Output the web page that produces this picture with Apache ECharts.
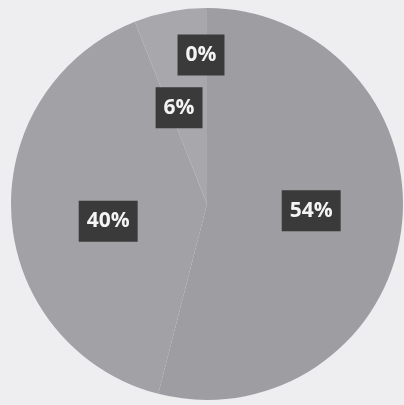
<!DOCTYPE html>
<html>
<head>
<meta charset="utf-8">
<script src="https://cdn.jsdelivr.net/npm/echarts@6/dist/echarts.min.js"></script>
<style>
html,body{margin:0;padding:0;background:#eeeef0;}
#c{width:404px;height:405px;}
</style>
</head>
<body>
<div id="c"></div>
<script>
const categories = ['A', 'B', 'C', 'D'];
const values = [54, 40, 6, 0];

const sliceColors = ['#9d9da2', '#a1a1a6', '#a8a8ac', '#c4c4c7'];
const labelOffsets = [[4, -6], [2, 11], [-9, 3], [-6, -48]];

const chart = echarts.init(document.getElementById('c'), null, {renderer: 'canvas'});
chart.setOption({
  backgroundColor: '#eeeef0',
  animation: false,
  series: [{
    type: 'pie',
    center: [207, 204],
    radius: 196,
    startAngle: 90,
    clockwise: true,
    avoidLabelOverlap: false,
    label: {
      show: true,
      position: 'inside',
      formatter: '{d}%',
      color: '#f4f4f4',
      fontFamily: 'Open Sans',
      fontWeight: 'bold',
      fontSize: 21,
      backgroundColor: '#3a3a3a',
      padding: [11, 8, 9, 8]
    },
    labelLine: {show: false},
    itemStyle: {borderWidth: 0},
    data: categories.map((n, i) => ({
      name: n,
      value: values[i],
      itemStyle: {color: sliceColors[i]},
      label: {offset: labelOffsets[i]}
    }))
  }]
});
</script>
</body>
</html>
